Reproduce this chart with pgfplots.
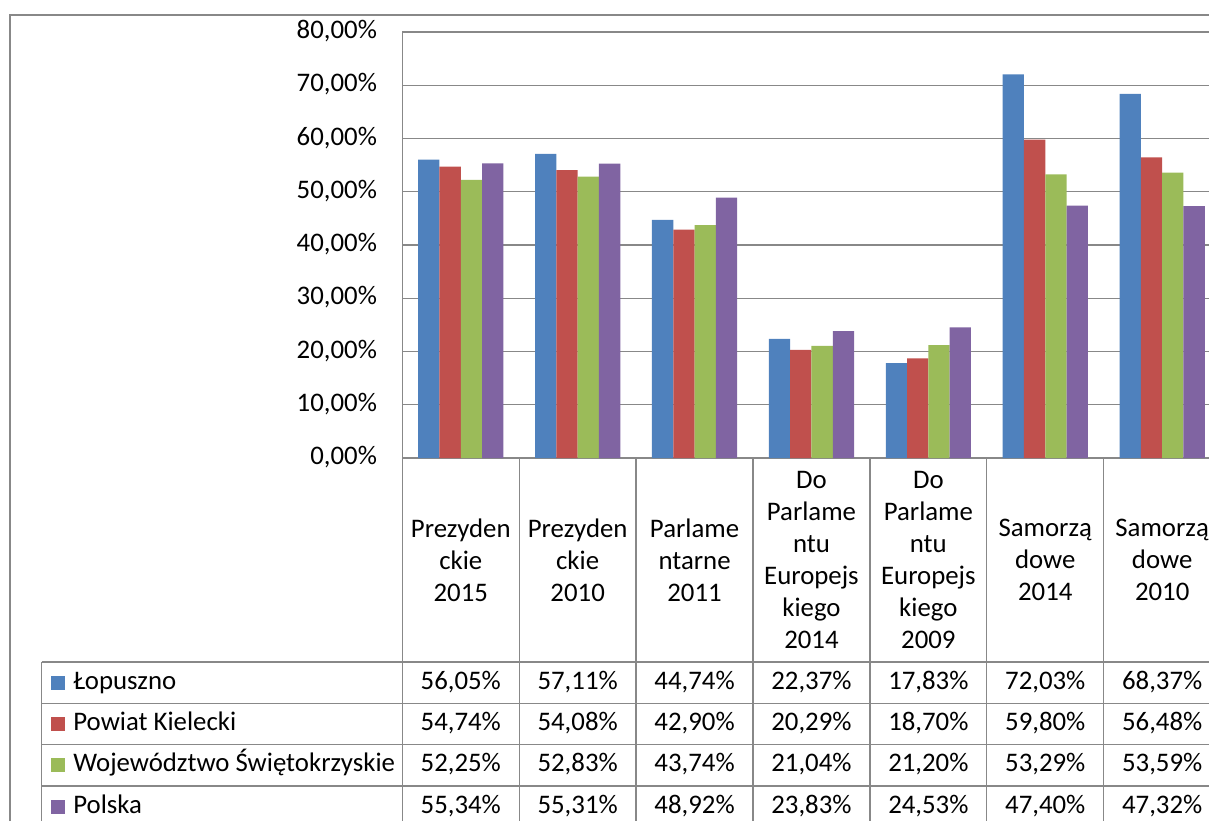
\documentclass[border=0pt]{standalone}
\usepackage{pgfplots}
\pgfplotsset{compat=1.18}
\usepackage{pgfplotstable}
\usepackage{fontspec}
\setmainfont{Carlito}
\definecolor{cBlue}{HTML}{4F81BD}
\definecolor{cRed}{HTML}{C0504D}
\definecolor{cGreen}{HTML}{9BBB59}
\definecolor{cPurple}{HTML}{8064A2}
\definecolor{gridc}{HTML}{888888}

\pgfplotstableread{
x lop pow woj pol
0 56.05 54.74 52.25 55.34
1 57.11 54.08 52.83 55.31
2 44.74 42.90 43.74 48.92
3 22.37 20.29 21.04 23.83
4 17.83 18.70 21.20 24.53
5 72.03 59.80 53.29 47.40
6 68.37 56.48 53.59 47.32
}\data

\begin{document}
\begin{tikzpicture}[font=\fontsize{13.4}{16}\selectfont]
\useasboundingbox (0,0) rectangle (604.5pt,-410.5pt);
\begin{axis}[
  at={(201.15pt,-229pt)}, anchor=south west,
  scale only axis, width=403.35pt, height=213pt,
  xmin=-0.5, xmax=6.401, ymin=0, ymax=80,
  ybar=0pt, bar width=10.65pt,
  xtick=\empty,
  ytick={0,10,...,80},
  yticklabel={\pgfmathprintnumber[fixed,fixed zerofill,precision=2,use comma,assume math mode=true]{\tick}\%},
  ymajorgrids,
  grid style={gridc, line width=0.65pt},
  axis x line*=bottom, axis y line*=left,
  axis line style={gridc, line width=0.65pt},
  major tick length=0pt,
  yticklabel style={anchor=east, inner sep=0pt, xshift=-12.5pt, text height=1.38ex, text depth=0pt},
]
\addplot[fill=cBlue, draw=none] table[x=x,y=lop]{\data};
\addplot[fill=cRed, draw=none] table[x=x,y=pow]{\data};
\addplot[fill=cGreen, draw=none] table[x=x,y=woj]{\data};
\addplot[fill=cPurple, draw=none] table[x=x,y=pol]{\data};
\end{axis}
\begin{scope}[x=0.5pt,y=-0.5pt]
  % outer chart border
  \draw[gridc, line width=1pt] (10,821) -- (10,15) -- (1209,15);
  % table lines
  \draw[gridc, line width=0.65pt] (402.3,32) -- (402.3,821);
  \foreach \k in {1,...,6} {
    \draw[gridc, line width=0.65pt] ({402.3+116.9*\k},458) -- ({402.3+116.9*\k},821);
  }
  \foreach \yy in {662,703.3,744.7,786} {
    \draw[gridc, line width=0.65pt] (41.7,\yy) -- (1209,\yy);
  }
  \draw[gridc, line width=0.65pt] (41.7,662) -- (41.7,821);
  % category labels
  \foreach \lab [count=\i from 0] in {
    {Prezyden\\ckie\\2015},
    {Prezyden\\ckie\\2010},
    {Parlame\\ntarne\\2011},
    {Do\\Parlame\\ntu\\Europejs\\kiego\\2014},
    {Do\\Parlame\\ntu\\Europejs\\kiego\\2009},
    {Samorzą\\dowe\\2014},
    {Samorzą\\dowe\\2010}} {
    \node[align=center, inner sep=0pt] at ({460.75+116.9*\i},560) {\lab};
  }
  % legend column
  \foreach \nm/\cc [count=\r from 0] in {Łopuszno/cBlue, Powiat Kielecki/cRed, Województwo Świętokrzyskie/cGreen, Polska/cPurple} {
    \fill[\cc] (51,{682.6+41.35*\r-7}) rectangle (65,{682.6+41.35*\r+7});
    \node[anchor=west, inner sep=0pt, text height=1.38ex, text depth=0pt] at (73,{682.6+41.35*\r}) {\nm};
  }
  % values
  \foreach \col [count=\r from 0] in {lop,pow,woj,pol} {
    \foreach \i in {0,...,6} {
      \pgfplotstablegetelem{\i}{\col}\of\data
      \node[inner sep=0pt, text height=1.38ex, text depth=0pt] at ({460.75+116.9*\i},{682.6+41.35*\r})
        {\pgfmathprintnumber[fixed,fixed zerofill,precision=2,use comma,assume math mode=true]{\pgfplotsretval}\%};
    }
  }
\end{scope}
\end{tikzpicture}
\end{document}
